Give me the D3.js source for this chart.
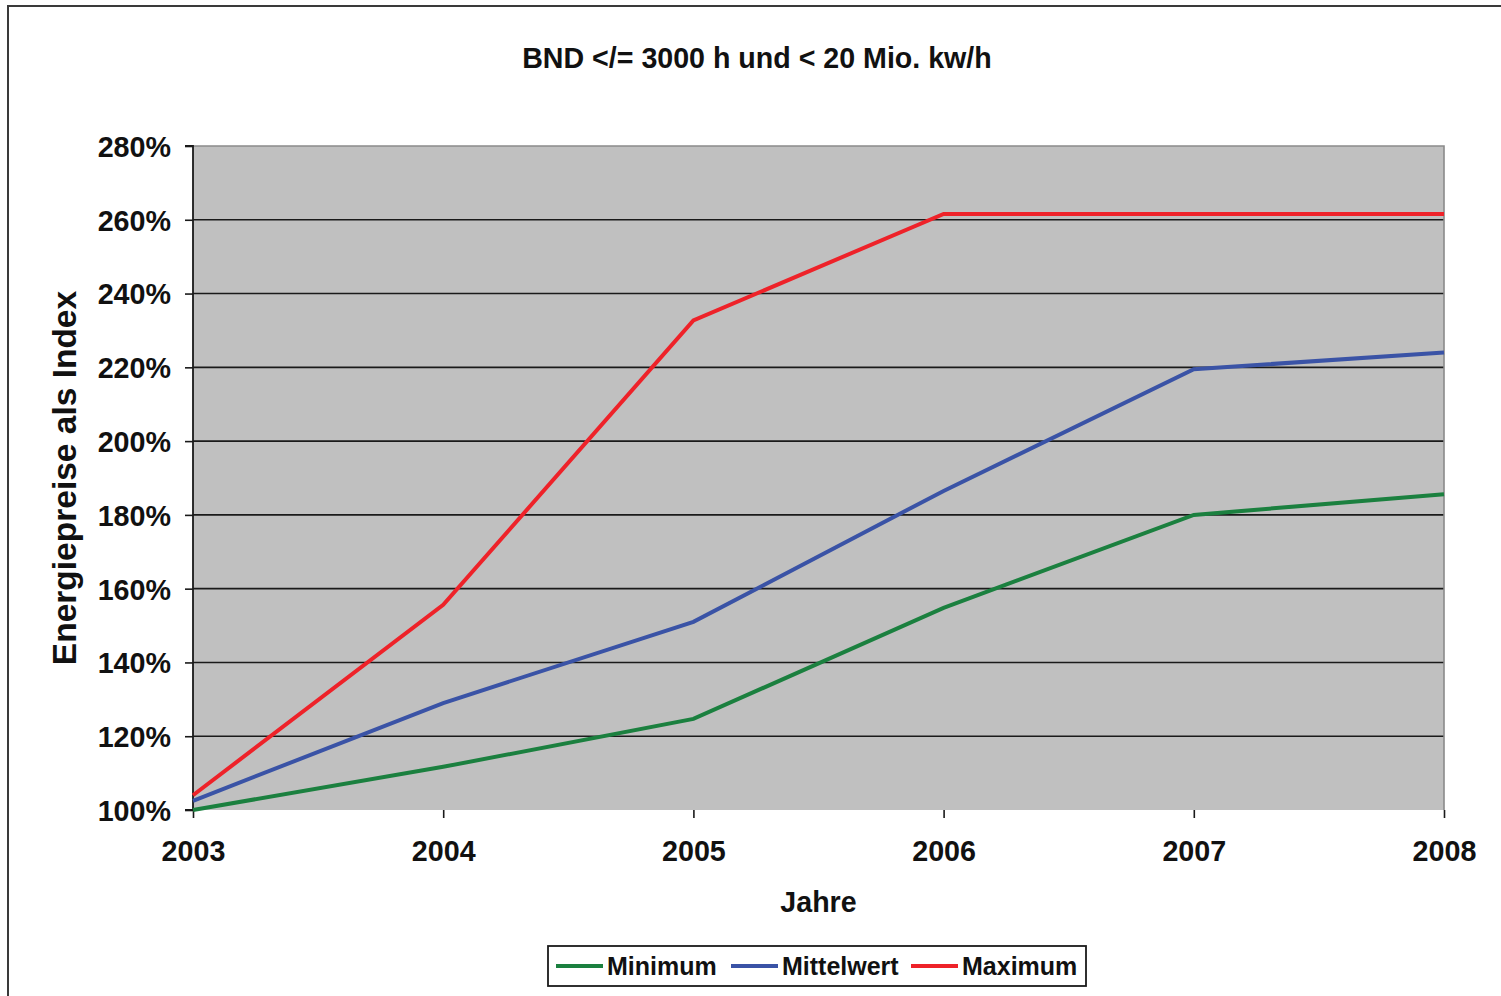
<!DOCTYPE html>
<html><head><meta charset="utf-8">
<script src="https://cdn.jsdelivr.net/npm/d3@7"></script>
<style>html,body{margin:0;padding:0;background:#fff;}svg{display:block;}</style>
</head><body>
<svg id="c" width="1501" height="996"></svg>
<script>
const years = ["2003","2004","2005","2006","2007","2008"];
const minimum = [100, 111.7, 124.7, 154.8, 180.0, 185.6];
const mittelwert = [102.5, 129.0, 151.0, 186.5, 219.5, 224.0];
const maximum = [104.0, 155.6, 232.7, 261.6, 261.6, 261.6];
const yTicks = [100,120,140,160,180,200,220,240,260,280];
const seriesNames = ["Minimum","Mittelwert","Maximum"];
const seriesColors = ["#1b803f","#3a53a6","#ee2229"];
const title = "BND </= 3000 h und < 20 Mio. kw/h";

const series = [minimum, mittelwert, maximum];
const svg = d3.select("#c");
const font = "'Liberation Sans', Arial, sans-serif";
const L = 193, R = 1444, T = 146, B = 810;

// outer frame
svg.append("path").attr("d", "M8,996 V6 H1501").attr("fill","none").attr("stroke","#3a3a3a").attr("stroke-width",2);

const x = d3.scalePoint().domain(years).range([L, R]).padding(0);
const y = d3.scaleLinear().domain([100, 280]).range([B, T]);

svg.append("rect").attr("x", L).attr("y", T).attr("width", R-L).attr("height", B-T).attr("fill", "#c0c0c0");

// grid lines
svg.append("g").selectAll("line").data(yTicks.filter(d => d > 100 && d < 280)).join("line")
  .attr("x1", L).attr("x2", R).attr("y1", d => y(d)).attr("y2", d => y(d))
  .attr("stroke", "#1a1a1a").attr("stroke-width", 1.6);

// top & right border
svg.append("path").attr("d", `M${L},${T} H${R} V${B}`).attr("fill","none").attr("stroke","#8a8a8a").attr("stroke-width",1.6);

// axes
const yAxis = d3.axisLeft(y).tickValues(yTicks).tickFormat(d => d + "%").tickSize(8).tickPadding(14);
const gy = svg.append("g").attr("transform", `translate(${L},0)`).call(yAxis);
const xAxis = d3.axisBottom(x).tickSize(8).tickPadding(16);
const gx = svg.append("g").attr("transform", `translate(0,${B})`).call(xAxis);
[gy, gx].forEach(g => {
  g.select(".domain").attr("stroke", "#1a1a1a").attr("stroke-width", 1.8);
  g.selectAll(".tick line").attr("stroke", "#1a1a1a").attr("stroke-width", 1.6);
  g.selectAll("text").attr("font-family", font).attr("font-weight", "bold").attr("font-size", 28.7).attr("fill", "#111");
});
gy.selectAll("text").attr("dy", "0.36em");
gx.selectAll("text").attr("dy", "0.95em");
gy.select(".domain").attr("d", `M-8,${T}H0V${B}H-8`);
gx.select(".domain").attr("d", `M${L},${B + 8}V${B}H${R}V${B + 8}`);

// lines
const line = d3.line().x((d, i) => x(years[i])).y(d => y(d));
svg.append("g").selectAll("path").data(series).join("path")
  .attr("d", d => line(d)).attr("fill", "none")
  .attr("stroke", (d, i) => seriesColors[i]).attr("stroke-width", 4)
  .attr("stroke-linejoin", "miter");

// title
svg.append("text").attr("x", 757).attr("y", 68).attr("text-anchor", "middle")
  .attr("font-family", font).attr("font-weight", "bold").attr("font-size", 28.6).attr("fill", "#111").text(title);

// axis titles
svg.append("text").attr("transform", `translate(76,${(T + B) / 2}) rotate(-90)`).attr("text-anchor", "middle")
  .attr("font-family", font).attr("font-weight", "bold").attr("font-size", 33.5).attr("fill", "#111").text("Energiepreise als Index");
svg.append("text").attr("x", (L + R) / 2).attr("y", 912).attr("text-anchor", "middle")
  .attr("font-family", font).attr("font-weight", "bold").attr("font-size", 28.6).attr("fill", "#111").text("Jahre");

// legend
const lg = svg.append("g");
lg.append("rect").attr("x", 548).attr("y", 946).attr("width", 538).attr("height", 40)
  .attr("fill", "#fff").attr("stroke", "#1a1a1a").attr("stroke-width", 1.8);
const legX = [556, 731, 911];
seriesNames.forEach((n, i) => {
  lg.append("line").attr("x1", legX[i]).attr("x2", legX[i] + 47).attr("y1", 966).attr("y2", 966)
    .attr("stroke", seriesColors[i]).attr("stroke-width", 4);
  lg.append("text").attr("x", legX[i] + 51).attr("y", 975).attr("font-family", font).attr("font-weight", "bold")
    .attr("font-size", 25).attr("fill", "#111").text(n);
});
</script>
</body></html>
